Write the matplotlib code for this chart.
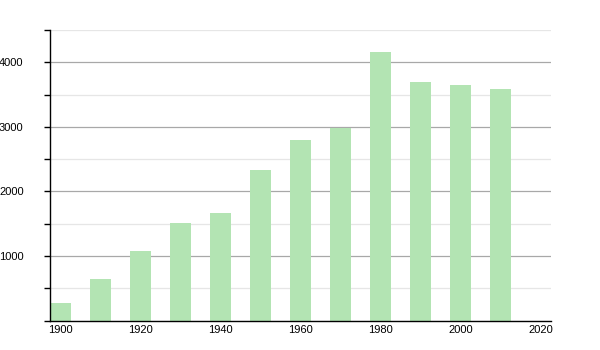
import matplotlib
matplotlib.use("Agg")
import matplotlib.pyplot as plt
from matplotlib.ticker import MultipleLocator
import matplotlib.transforms as mtransforms

years = [1900, 1910, 1920, 1930, 1940, 1950, 1960, 1970, 1980, 1990, 2000, 2010]
population = [267, 645, 1070, 1512, 1667, 2325, 2792, 2978, 4155, 3689, 3647, 3585]
xticks = [1900, 1920, 1940, 1960, 1980, 2000, 2020]

plt.rcParams['font.family'] = ['Liberation Sans', 'DejaVu Sans']

fig = plt.figure(figsize=(6, 3.5), dpi=100)
ax = fig.add_axes([50/600, 1 - 320.5/350, 501/600, 290.5/350])

ax.bar(years, population, width=5.2, align='edge', color='#b3e4b3', edgecolor='none', zorder=2)

ax.set_xlim(1900, 2025.25)
ax.set_ylim(0, 4500)
ax.yaxis.set_major_locator(MultipleLocator(1000))
ax.yaxis.set_minor_locator(MultipleLocator(500))
ax.grid(axis='y', which='major', color='#a8a8a8', linewidth=0.9, zorder=1)
ax.grid(axis='y', which='minor', color='#e6e6e6', linewidth=0.9, zorder=1)
ax.set_axisbelow(True)

ax.set_yticks([1000, 2000, 3000, 4000])
ax.set_yticklabels(['1000', '2000', '3000', '4000'], fontsize=8)
ax.tick_params(axis='y', which='both', length=4, width=1, pad=15, color='black')

ax.set_xticks(xticks)
ax.set_xticklabels([str(x) for x in xticks], fontsize=8, ha='left')
ax.tick_params(axis='x', length=0, pad=3)
offset = mtransforms.ScaledTranslation(-2/100, 0, fig.dpi_scale_trans)
for lbl in ax.get_xticklabels():
    lbl.set_transform(lbl.get_transform() + offset)

for s in ['top', 'right']:
    ax.spines[s].set_visible(False)
ax.spines['left'].set_linewidth(1)
ax.spines['bottom'].set_linewidth(1)

fig.savefig('out.png', dpi=100)
